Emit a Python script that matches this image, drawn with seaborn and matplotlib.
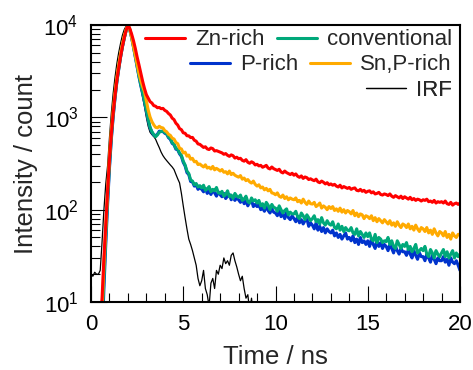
import numpy as np
import pandas as pd
import matplotlib
matplotlib.use("Agg")
import matplotlib.pyplot as plt
from matplotlib.lines import Line2D
from matplotlib.ticker import LogLocator, NullFormatter, MultipleLocator
import seaborn as sns

sns.set_style("ticks")
plt.rcParams['font.family'] = ['Liberation Sans', 'DejaVu Sans']
plt.rcParams['mathtext.default'] = 'regular'

# -----------------------------
# Data (counts, 0.1 ns bins)
# -----------------------------
time_ns = np.round(np.arange(0, 201) * 0.1, 1)

zn_rich = [
    1, 1, 1, 1, 2, 6, 11, 30, 70, 160,
    350, 650, 1100, 1700, 2500, 3400, 4500, 5800, 7200, 8700,
    10000, 9200, 8000, 6800, 5600, 4500, 3700, 3000, 2450, 2050,
    1760, 1610, 1480, 1430, 1340, 1320, 1270, 1280, 1240, 1250,
    1190, 1160, 1100, 1060, 980, 945, 865, 825, 755, 735,
    680, 672, 632, 630, 604, 606, 565, 552, 515, 510,
    490, 472, 480, 455, 448, 466, 458, 432, 436, 428,
    420, 412, 398, 405, 388, 378, 392, 384, 362, 370,
    356, 360, 342, 335, 348, 326, 318, 330, 322, 305,
    310, 298, 302, 288, 294, 302, 282, 276, 290, 278,
    272, 266, 274, 256, 250, 262, 252, 246, 240, 248,
    236, 244, 230, 224, 232, 218, 226, 222, 212, 216,
    210, 206, 214, 200, 196, 204, 198, 190, 196, 186,
    190, 184, 188, 180, 176, 184, 172, 178, 174, 170,
    174, 166, 170, 172, 162, 160, 166, 158, 162, 154,
    158, 160, 152, 156, 148, 150, 154, 146, 144, 148,
    146, 142, 148, 140, 136, 142, 138, 134, 140, 132,
    138, 134, 130, 136, 128, 132, 126, 130, 128, 124,
    128, 126, 130, 122, 124, 120, 126, 118, 122, 120,
    122, 118, 124, 116, 114, 120, 112, 116, 118, 114,
    118,
]

conventional = [
    1, 1, 1, 1, 1, 2, 6, 18, 50, 130,
    300, 600, 1050, 1650, 2450, 3350, 4500, 5800, 7200, 8700,
    10000, 9000, 7400, 5900, 4600, 3600, 2800, 2250, 1850, 1500,
    1200, 950, 780, 700, 650, 615, 645, 690, 700, 712,
    685, 668, 612, 592, 532, 512, 462, 452, 410, 388,
    335, 305, 262, 246, 210, 204, 186, 192, 176, 182,
    172, 184, 162, 168, 178, 156, 166, 160, 174, 152,
    150, 158, 140, 146, 160, 138, 144, 132, 150, 140,
    136, 144, 126, 130, 140, 122, 118, 134, 124, 128,
    118, 126, 110, 116, 104, 120, 112, 100, 114, 106,
    104, 96, 110, 100, 92, 98, 102, 88, 94, 90,
    90, 96, 84, 80, 92, 86, 78, 88, 82, 76,
    80, 86, 74, 78, 70, 82, 72, 68, 76, 70,
    68, 74, 64, 62, 70, 60, 66, 58, 64, 60,
    59, 64, 56, 54, 62, 52, 58, 54, 50, 56,
    51, 56, 48, 46, 54, 44, 50, 48, 44, 46,
    45, 50, 42, 46, 40, 38, 46, 42, 38, 42,
    40, 44, 37, 40, 35, 38, 42, 34, 36, 38,
    36, 40, 33, 31, 37, 34, 30, 36, 33, 31,
    34, 37, 31, 35, 30, 33, 36, 30, 34, 31,
    33,
]

p_rich = [
    1, 1, 1, 1, 1, 1, 4, 14, 42, 115,
    280, 570, 1000, 1600, 2400, 3300, 4450, 5750, 7150, 8650,
    10000, 8900, 7300, 5800, 4500, 3500, 2750, 2200, 1800, 1460,
    1170, 930, 770, 690, 640, 635, 655, 708, 705, 702,
    672, 658, 602, 578, 522, 505, 452, 445, 402, 378,
    325, 298, 252, 240, 202, 200, 180, 186, 166, 174,
    166, 156, 170, 150, 158, 146, 162, 152, 140, 156,
    145, 138, 150, 132, 140, 146, 128, 136, 126, 134,
    128, 120, 132, 116, 124, 110, 120, 126, 108, 114,
    108, 114, 100, 104, 96, 110, 98, 92, 102, 94,
    92, 86, 98, 84, 90, 80, 94, 82, 78, 86,
    80, 74, 84, 72, 78, 70, 76, 80, 66, 72,
    68, 62, 72, 60, 66, 58, 64, 56, 62, 58,
    56, 60, 52, 56, 50, 54, 48, 52, 56, 48,
    50, 46, 52, 44, 48, 42, 50, 44, 46, 42,
    46, 40, 48, 42, 38, 46, 40, 44, 38, 42,
    40, 36, 42, 38, 34, 40, 36, 33, 38, 35,
    35, 32, 37, 33, 30, 36, 32, 29, 34, 31,
    31, 28, 33, 30, 27, 32, 29, 26, 30, 28,
    28, 31, 27, 29, 25, 30, 27, 26, 28, 25,
    22,
]

sn_p_rich = [
    1, 1, 1, 1, 1, 3, 8, 25, 65, 160,
    380, 720, 1200, 1850, 2700, 3700, 4900, 6200, 7600, 8900,
    10000, 9000, 7400, 5900, 4700, 3700, 3000, 2500, 2150, 1900,
    1500, 1200, 1010, 900, 830, 780, 770, 800, 775, 768,
    718, 698, 655, 638, 595, 582, 535, 518, 462, 455,
    412, 420, 380, 390, 352, 360, 330, 334, 308, 312,
    300, 290, 306, 282, 288, 276, 294, 270, 280, 272,
    262, 272, 254, 258, 244, 262, 240, 248, 236, 230,
    225, 234, 214, 220, 206, 212, 200, 194, 204, 188,
    180, 186, 172, 176, 164, 170, 160, 166, 152, 150,
    145, 152, 140, 136, 144, 132, 138, 128, 134, 130,
    128, 134, 122, 126, 118, 130, 120, 114, 124, 116,
    115, 120, 108, 112, 118, 104, 110, 106, 100, 108,
    103, 108, 98, 102, 96, 104, 94, 100, 92, 98,
    95, 90, 98, 86, 92, 84, 90, 88, 80, 86,
    84, 80, 86, 76, 82, 74, 80, 76, 72, 78,
    74, 70, 76, 68, 72, 66, 74, 68, 64, 70,
    68, 64, 70, 62, 66, 60, 68, 62, 58, 64,
    62, 58, 64, 56, 60, 54, 62, 56, 52, 58,
    56, 52, 58, 50, 54, 48, 56, 52, 50, 54,
    54,
]

# instrument response, recorded up to 9.5 ns
irf = [
    20, 19, 21, 20, 20, 22, 45, 100, 190, 300,
    600, 1100, 1800, 2700, 3800, 5000, 6300, 7700, 8900, 9700,
    10000, 9200, 7600, 6000, 4600, 3500, 2700, 2100, 1650, 1300,
    1000, 800, 690, 650, 620, 580, 520, 470, 420, 385,
    360, 340, 322, 305, 290, 272, 242, 216, 195, 150,
    110, 82, 62, 48, 42, 36, 30, 25, 18, 15,
    17, 22, 14, 12, 9, 16, 18, 14, 22, 20,
    25, 23, 30, 26, 28, 25, 32, 34, 28, 24,
    20, 17, 19, 14, 11, 12, 8, 11, 7, 10,
    6, 8, 5, 7, 4, 3,
]

labels = ["Zn-rich", "conventional", "P-rich", "Sn,P-rich", "IRF"]
colors = ["#FF0000", "#00A87A", "#0033CC", "#FFAA00", "#000000"]

df = pd.concat([
    pd.DataFrame({"t": time_ns, "I": zn_rich, "sample": "Zn-rich"}),
    pd.DataFrame({"t": time_ns, "I": conventional, "sample": "conventional"}),
    pd.DataFrame({"t": time_ns, "I": p_rich, "sample": "P-rich"}),
    pd.DataFrame({"t": time_ns, "I": sn_p_rich, "sample": "Sn,P-rich"}),
    pd.DataFrame({"t": time_ns[:len(irf)], "I": irf, "sample": "IRF"}),
])

# -----------------------------
# Plot
# -----------------------------
fig = plt.figure(figsize=(4.73, 3.70), dpi=100)
ax = fig.add_axes([91 / 473, 68 / 370, 369 / 473, 277 / 370])

draw_order = ["IRF", "P-rich", "conventional", "Sn,P-rich", "Zn-rich"]
for name in draw_order:
    i = labels.index(name)
    lw = 0.9 if name == "IRF" else 2.2
    sns.lineplot(data=df[df["sample"] == name], x="t", y="I", color=colors[i],
                 linewidth=lw, estimator=None, ax=ax, legend=False)

ax.set_yscale("log")
ax.set_xlim(0, 20)
ax.set_ylim(10, 1e4)
ax.xaxis.set_major_locator(MultipleLocator(5))
ax.xaxis.set_minor_locator(MultipleLocator(1))
ax.yaxis.set_major_locator(LogLocator(base=10))
ax.yaxis.set_minor_locator(LogLocator(base=10, subs=np.arange(2, 10)))
ax.yaxis.set_minor_formatter(NullFormatter())

ax.tick_params(which="both", direction="in", top=False, right=False,
               labelsize=16, width=0.8, pad=9, colors="black")
ax.tick_params(which="major", length=11.5)
ax.tick_params(which="minor", length=6.5)
for s in ax.spines.values():
    s.set_linewidth(1.5)
    s.set_color("black")

ax.set_xlabel("Time / ns", fontsize=18.5, labelpad=7)
ax.set_ylabel("Intensity / count", fontsize=18.5, labelpad=4)

# legend: three right-aligned rows
rows = [["Zn-rich", "conventional"], ["P-rich", "Sn,P-rich"], ["IRF"]]
row_y = [0.946, 0.856, 0.765]
for names, y in zip(rows, row_y):
    handles = [Line2D([], [], color=colors[labels.index(n)],
                      linewidth=0.9 if n == "IRF" else 2.2) for n in names]
    leg = ax.legend(handles, names, loc="center right", bbox_to_anchor=(0.978, y),
                    ncol=len(names), frameon=False, fontsize=16, handlelength=1.8,
                    handletextpad=0.45, columnspacing=0.55, borderpad=0,
                    borderaxespad=0)
    ax.add_artist(leg)

fig.savefig("out.png", dpi=100)
plt.close()
